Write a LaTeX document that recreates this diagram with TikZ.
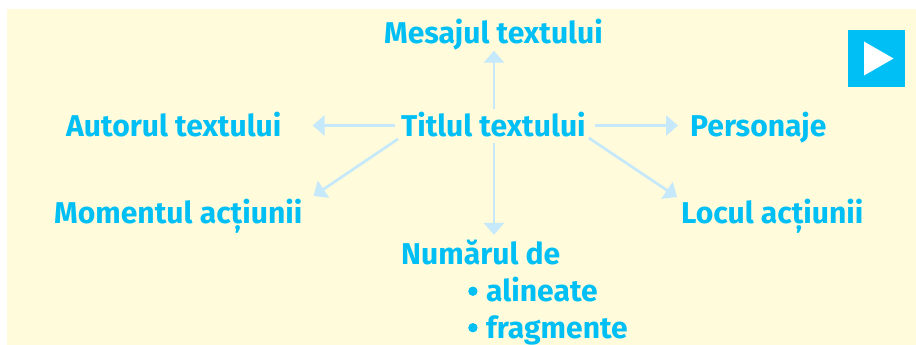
\documentclass[tikz,border=0pt]{standalone}
\usepackage{fontspec}
\setmainfont{Fira Sans}[BoldFont={Fira Sans Bold}]
\usetikzlibrary{arrows.meta}
\definecolor{panel}{HTML}{FFFBDB}
\definecolor{ink}{HTML}{00BFF5}
\definecolor{arrowc}{HTML}{C5E8FB}
\newcommand{\bul}{\hbox to 19pt{\hskip.5pt{\addfontfeature{FakeBold=3}•}\hfil}}
\tikzset{
  lab/.style={inner sep=0pt,anchor=base west,text=ink,text height=22pt,text depth=6pt,font=\fontsize{30.1}{32}\selectfont\bfseries},
  conn/.style={draw=arrowc,line width=2.7pt,-{Triangle[length=12pt,width=20pt]}}
}
\begin{document}
\begin{tikzpicture}[x=1pt,y=-1pt]
\useasboundingbox (0,0) rectangle (916,345);
\fill[panel] (7,9) rectangle (916,345);
\node[lab] (t) at (401,136.5) {Titlul textului};
\node[lab] (m) at (384,43.5) {Mesajul textului};
\node[lab] (a) at (66,136.5) {Autorul textului};
\node[lab] (p) at (690,136.5) {Personaje};
\node[lab] (mo) at (54,223.5) {Momentul acțiunii};
\node[lab] (l) at (681,223.5) {Locul acțiunii};
\node[lab] (n) at (401,264) {Numărul de};
\node[lab] (n1) at (467,301.5) {\bul alineate};
\node[lab] (n2) at (467,338) {\bul fragmente};
\draw[conn,shorten <=5pt,shorten >=1pt] ([xshift=.5pt]t.north) -- ([xshift=.5pt]t.north |- m.south);
\draw[conn,shorten >=7pt] ([xshift=.5pt]t.south) -- ([xshift=.5pt]t.south |- n.north);
\draw[conn] ([shift={(-6pt,11pt)}]t.base west) -- ([shift={(31pt,11pt)}]a.base east);
\draw[conn] ([shift={(9pt,11pt)}]t.base east) -- ([shift={(-12pt,11pt)}]p.base west);
\draw[conn] ([shift={(-3pt,-2.5pt)}]t.base west) -- ([shift={(11pt,27.5pt)}]mo.base east);
\draw[conn] ([shift={(3pt,-1.5pt)}]t.base east) -- ([shift={(-4pt,26.5pt)}]l.base west);
\node[fill=ink,minimum size=57pt,inner sep=0pt] (b) at (876.5,58.5) {};
\fill[white] ([shift={(-12.5pt,17pt)}]b.center) -- ([shift={(17pt,0pt)}]b.center) -- ([shift={(-12.5pt,-17pt)}]b.center) -- cycle;
\end{tikzpicture}
\end{document}
